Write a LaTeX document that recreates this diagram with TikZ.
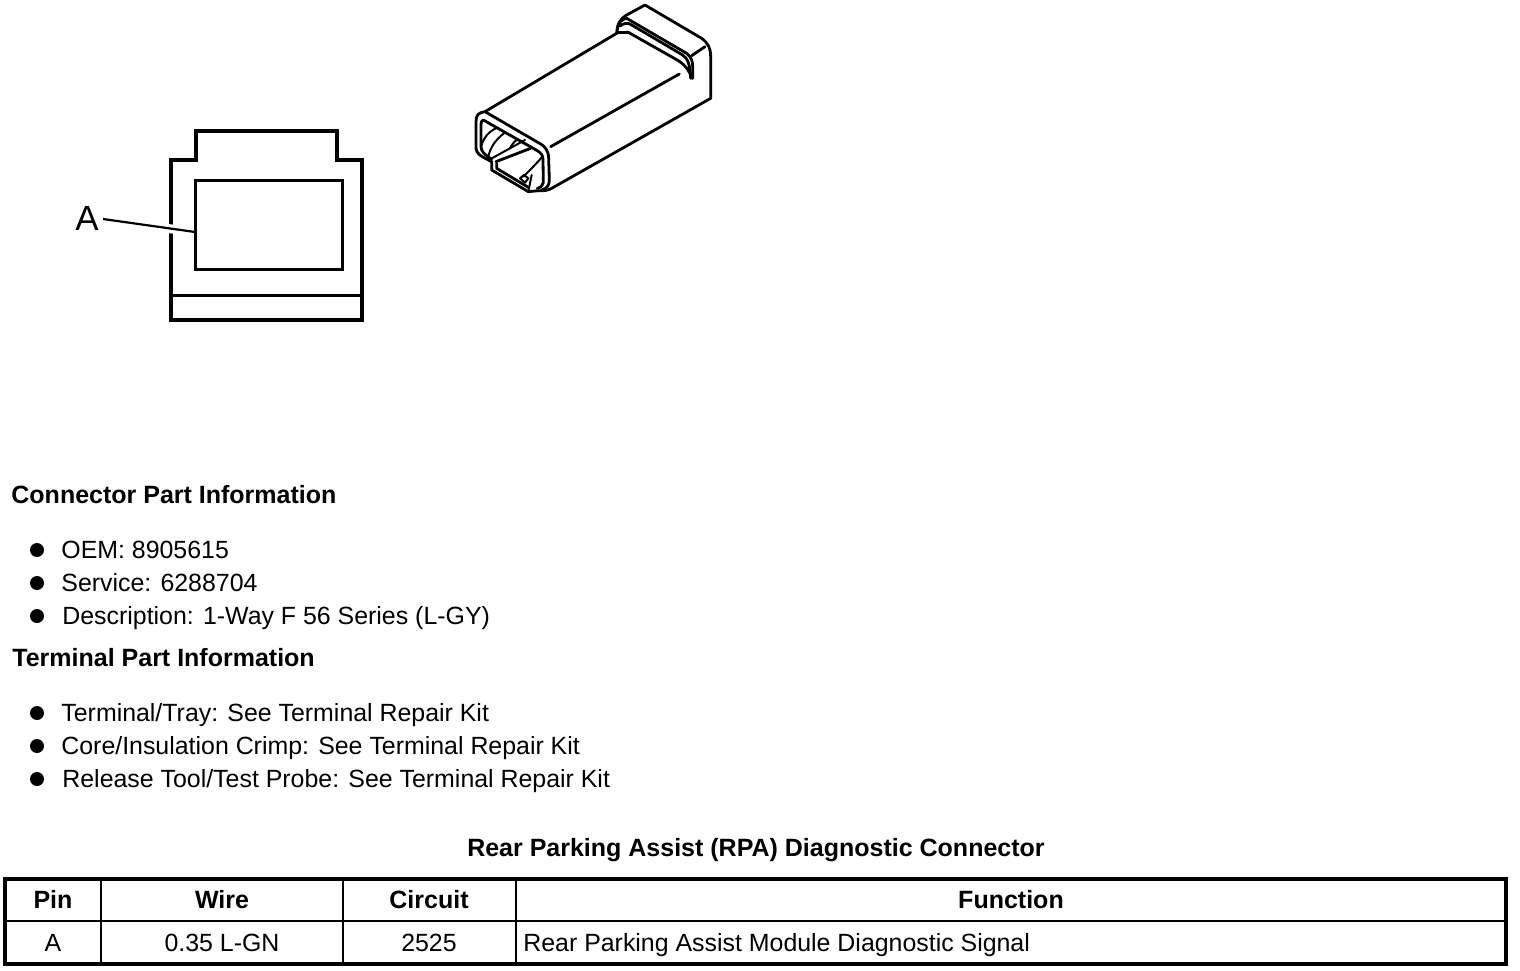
\documentclass[tikz,border=0pt]{standalone}
\usepackage{fontspec}
\setmainfont{Liberation Sans}
\tikzset{
    bodytext/.style={anchor=base west,inner sep=0pt,font=\fontsize{12.45}{14}\selectfont},
    headtext/.style={anchor=base west,inner sep=0pt,font=\fontsize{12.5}{14}\selectfont\bfseries},
    celltext/.style={anchor=base,inner sep=0pt,font=\fontsize{12.45}{14}\selectfont},
    cellhead/.style={anchor=base,inner sep=0pt,font=\fontsize{12.5}{14}\selectfont\bfseries},
    bulletdot/.style={circle,fill=black,inner sep=0pt,minimum size=7pt},
    partline/.style={line width=1.4pt,line join=round,line cap=round},
    thinpart/.style={line width=1pt,line join=round,line cap=round},
    faceline/.style={line width=1.8pt,line join=miter},
    gridline/.style={line width=1.4pt}
}
\begin{document}
\begin{tikzpicture}[x=0.5pt,y=-0.5pt]
    \useasboundingbox (0,0) rectangle (1520,970);

    % Connector end view
    \begin{scope}[shift={(0,0)}]
        \draw[faceline] (171,320) -- (171,160) -- (196,160) -- (196,131) -- (337,131) -- (337,160) -- (362,160) -- (362,320) -- cycle;
        \draw[line width=1.5pt] (171,295) -- (362,295);
        \draw[line width=1.5pt] (195,180) rectangle (342,269);
        \node[inner sep=0pt,font=\fontsize{17.5}{20}\selectfont] (lblA) at (87,218) {A};
        \coordinate (pinA) at (195,232);
        \draw[white,line width=4.5pt] (162,227.7) -- (182,230.3);
        \draw[line width=1.1pt] (lblA.east)+(4,1) -- (pinA);
    \end{scope}

    % Connector perspective view
    \begin{scope}[shift={(460,0)},scale=1/3]
        \draw[partline] (75,335) -- (470,100) .. controls (472,70) and (480,58) .. (500,45) -- (555,15) -- (725,115) .. controls (745,130) and (752,145) .. (752,170) -- (752,295) -- (275,565) .. controls (262,572) and (250,573) .. (235,572);
        \draw[partline] (75,335) .. controls (55,338) and (48,345) .. (48,365) -- (48,445) .. controls (50,460) and (55,465) .. (95,485) -- (95,510) -- (205,575) -- (235,572);
        \draw[partline] (75,335) -- (235,428) .. controls (255,438) and (265,450) .. (266,475) -- (268,540) .. controls (268,555) and (262,565) .. (245,570);
        \draw[partline] (70,360) -- (232,452) .. controls (245,460) and (249,468) .. (249,480) -- (250,548) .. controls (248,558) and (242,562) .. (232,565);
        \draw[partline] (70,360) .. controls (64,362) and (63,366) .. (63,375) -- (63,440) .. controls (64,455) and (72,462) .. (95,478);
        \draw[partline] (110,490) -- (110,505) -- (205,562);
        % insides
        \draw[thinpart] (63,440) .. controls (70,415) and (85,395) .. (108,385);
        \draw[thinpart] (85,470) .. controls (90,445) and (105,420) .. (132,400);
        \draw[thinpart] (150,445) .. controls (155,435) and (162,425) .. (170,420);
        \draw[thinpart] (90,478) -- (195,420);
        \draw[partline] (108,485) -- (212,445);
        \draw[thinpart] (190,530) .. controls (210,510) and (230,490) .. (247,470);
        \draw[thinpart] (180,535) -- (192,525) -- (205,535) -- (195,548) -- cycle;
        \draw[thinpart] (205,575) -- (215,525);
        % side lines
        \draw[partline] (272,440) -- (658,222);
        \draw[partline] (695,167) -- (735,140);
        % groove
        \draw[partline] (472,90) .. controls (475,65) and (485,58) .. (500,55) -- (680,160) .. controls (695,172) and (698,185) .. (698,200) -- (698,235);
        \draw[partline] (480,78) .. controls (490,70) and (500,68) .. (510,72) -- (668,165) .. controls (682,175) and (690,190) .. (692,235);
        \draw[partline] (470,98) -- (505,97) -- (655,182) .. controls (675,195) and (688,210) .. (695,235);
    \end{scope}

    % Connector part list
    \node[headtext] (hdConn) at (11,503) {Connector Part Information};
    \node[bulletdot] (dotA) at (37,550) {};
    \node[bodytext] (txtA) at (61,558) {OEM: 8905615};
    \node[bulletdot] (dotB) at (37,583) {};
    \node[bodytext] (txtB) at (61,591) {Service: 6288704};
    \node[bulletdot] (dotC) at (37,616) {};
    \node[bodytext] (txtC) at (62,624) {Description: 1-Way F 56 Series (L-GY)};

    % Terminal part list
    \node[headtext] (hdTerm) at (12,666) {Terminal Part Information};
    \node[bulletdot] (dotD) at (37,713) {};
    \node[bodytext] (txtD) at (61,721) {Terminal/Tray: See Terminal Repair Kit};
    \node[bulletdot] (dotE) at (37,746) {};
    \node[bodytext] (txtE) at (61,754) {Core/Insulation Crimp: See Terminal Repair Kit};
    \node[bulletdot] (dotF) at (37,779) {};
    \node[bodytext] (txtF) at (62,787) {Release Tool/Test Probe: See Terminal Repair Kit};

    % Table
    \node[cellhead] (tabTitle) at (756,856) {Rear Parking Assist (RPA) Diagnostic Connector};
    \draw[line width=1.8pt] (5,879) rectangle (1506,964);
    \draw[gridline] (5,921) -- (1506,921);
    \draw[gridline] (101,879) -- (101,964);
    \draw[gridline] (343,879) -- (343,964);
    \draw[gridline] (516,879) -- (516,964);
    \node[cellhead] (hdPin) at (53,908) {Pin};
    \node[cellhead] (hdWire) at (222,908) {Wire};
    \node[cellhead] (hdCircuit) at (429,908) {Circuit};
    \node[cellhead] (hdFunc) at (1011,908) {Function};
    \node[celltext] (cellPin) at (53,951) {A};
    \node[celltext] (cellWire) at (222,951) {0.35 L-GN};
    \node[celltext] (cellCircuit) at (429,951) {2525};
    \node[bodytext] (cellFunc) at (523,951) {Rear Parking Assist Module Diagnostic Signal};
\end{tikzpicture}
\end{document}
